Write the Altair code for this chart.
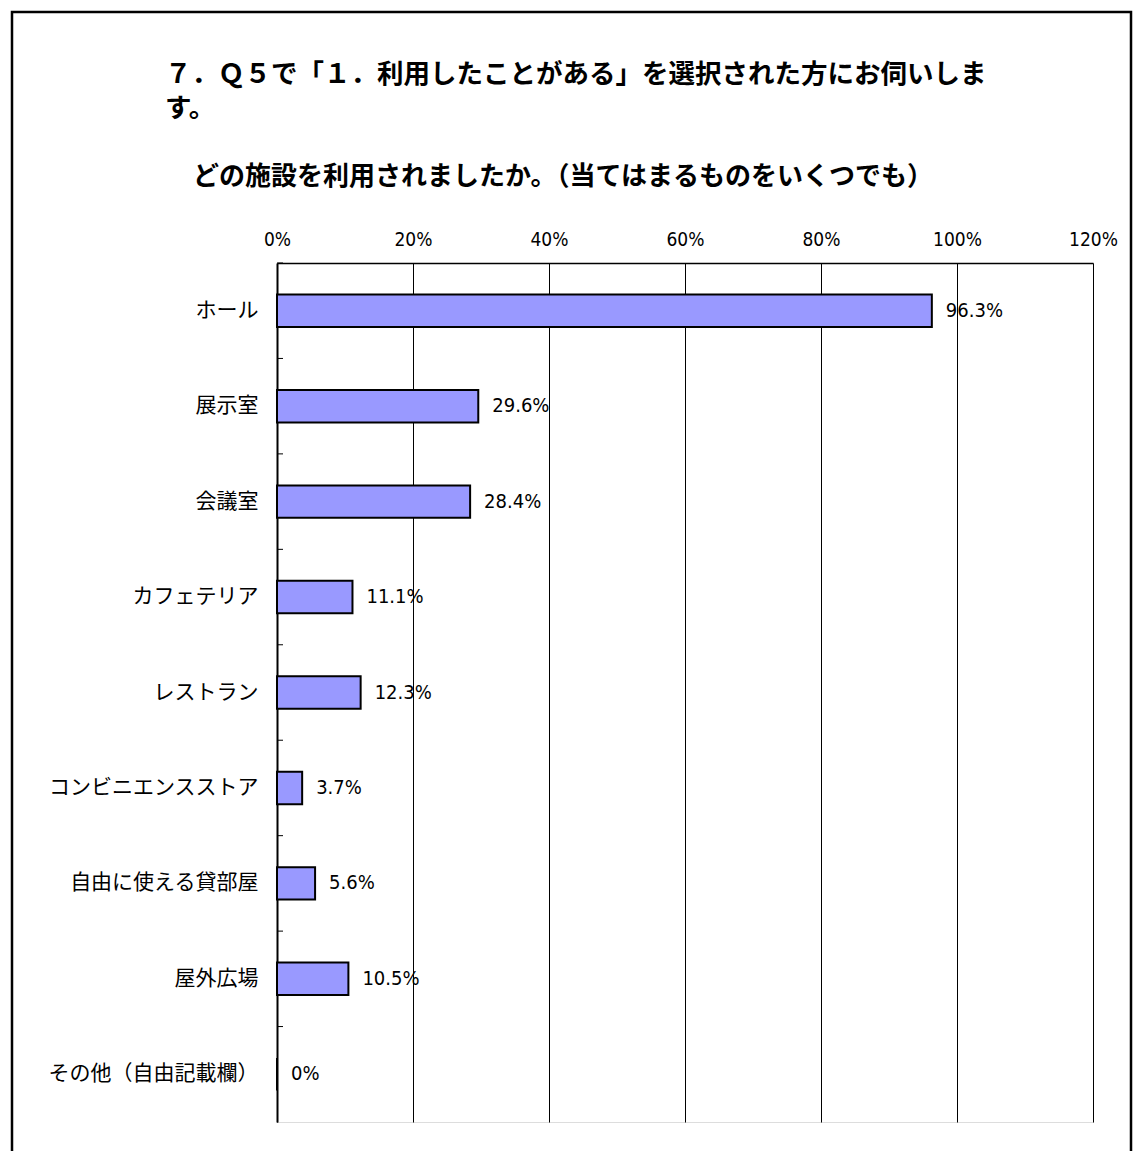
import altair as alt
import pandas as pd

categories = ["ホール", "展示室", "会議室", "カフェテリア", "レストラン",
              "コンビニエンスストア", "自由に使える貸部屋", "屋外広場", "その他（自由記載欄）"]
values = [96.3, 29.6, 28.4, 11.1, 12.3, 3.7, 5.6, 10.5, 0]
x_ticks = [0, 20, 40, 60, 80, 100, 120]

title_lines = ["７．Ｑ５で「１．利用したことがある」を選択された方にお伺いしま", "す。"]
subtitle_text = ["どの施設を利用されましたか。（当てはまるものをいくつでも）"]

df = pd.DataFrame({"cat": categories, "v": values})

JP = "Noto Sans CJK JP"
NARROW = "Liberation Sans Narrow, DejaVu Sans Condensed, Noto Sans CJK JP"

W, H = 816, 859

y_enc = alt.Y("cat:N", sort=categories,
              scale=alt.Scale(paddingInner=0.66, paddingOuter=0.33),
              axis=alt.Axis(title=None, ticks=False, labelFont=JP, labelFontSize=21,
                            labelColor="black", labelPadding=19, domainColor="black",
                            domainWidth=2, labelLimit=300))
x_enc = alt.X("v:Q", scale=alt.Scale(domain=[0, 120], nice=False),
              axis=alt.Axis(orient="top", values=x_ticks, title=None, ticks=False,
                            labelExpr="datum.value + '%'", labelFont=NARROW,
                            labelFontSize=19, labelColor="black", labelPadding=14,
                            labelFlush=False,
                            grid=True, gridColor="black", gridWidth=1,
                            domainColor="black", domainWidth=1.5))

base = alt.Chart(df)

bars = base.mark_bar(color="#9999FF", stroke="black", strokeWidth=2).encode(
    x=x_enc, y=y_enc)

labels = base.transform_calculate(
    lab="datum.v == 0 ? '0%' : format(datum.v, '.1f') + '%'"
).mark_text(align="left", baseline="middle", dx=14, font=NARROW, fontSize=20,
            color="black").encode(x="v:Q", y=alt.Y("cat:N", sort=categories), text="lab:N")

step = H / 9.0
ticks = base.mark_rule(color="black", strokeWidth=1, yOffset=-step / 2).encode(
    y=alt.Y("cat:N", sort=categories), x=alt.value(0), x2=alt.value(6))

frame = alt.Chart(pd.DataFrame({"a": [0]})).mark_rect(
    fill=None, stroke="black", strokeWidth=2.5).encode(
    x=alt.value(-265), x2=alt.value(854), y=alt.value(-251), y2=alt.value(1000))

subtitle = alt.Chart(pd.DataFrame({"t": subtitle_text})).mark_text(
    align="left", baseline="middle", font=JP, fontSize=26, fontWeight="bold",
    color="black").encode(x=alt.value(-84), y=alt.value(-86), text="t:N")

chart = alt.layer(frame, bars, labels, ticks, subtitle).properties(
    width=W, height=H,
    autosize=alt.AutoSizeParams(type="none"),
    padding={"left": 277, "top": 263, "right": 45, "bottom": 29},
    title=alt.TitleParams(text=title_lines, anchor="start",
                          frame="group", dx=-112, dy=112, font=JP, fontSize=26.5,
                          fontWeight="bold", color="black", lineHeight=34,
                          offset=0)
).configure_view(stroke="#999999", strokeWidth=2).configure(background="white")

chart.save("out.html", embed_options={"renderer": "svg", "actions": False})
